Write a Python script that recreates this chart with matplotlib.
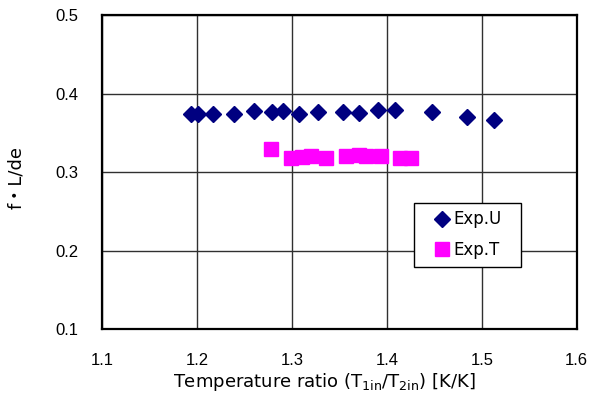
import matplotlib
matplotlib.use('Agg')
import matplotlib.pyplot as plt
from matplotlib.patches import Rectangle

plt.rcParams['font.family'] = ['DejaVu Sans', 'Noto Sans CJK JP']
plt.rcParams['mathtext.fontset'] = 'dejavusans'

# Exp.U series
u_ratio = [1.193, 1.201, 1.217, 1.239, 1.260, 1.279, 1.290, 1.307,
           1.327, 1.354, 1.371, 1.391, 1.408, 1.448, 1.484, 1.513]
u_fld = [0.3745, 0.3745, 0.374, 0.374, 0.378, 0.377, 0.378, 0.374,
         0.3765, 0.377, 0.375, 0.379, 0.3795, 0.3765, 0.370, 0.367]

# Exp.T series
t_ratio = [1.278, 1.299, 1.310, 1.320, 1.336, 1.357, 1.370, 1.378,
           1.394, 1.414, 1.425]
t_fld = [0.330, 0.3187, 0.3196, 0.3204, 0.3187, 0.3204, 0.3217, 0.3204,
         0.3204, 0.3187, 0.3187]

x_ticks = [1.1, 1.2, 1.3, 1.4, 1.5, 1.6]
y_ticks = [0.1, 0.2, 0.3, 0.4, 0.5]

fig = plt.figure(figsize=(5.89, 4.16), dpi=100)
ax = fig.add_axes([0.174, 0.209, 0.805, 0.754])

ax.plot(u_ratio, u_fld, ls='none', marker='D', ms=8.5, color='#000080',
        mec='#000080', label='Exp.U', zorder=3)
ax.plot(t_ratio, t_fld, ls='none', marker='s', ms=10.5, color='#FF00FF',
        mec='#FF00FF', label='Exp.T', zorder=3)

ax.set_xlim(1.1, 1.6)
ax.set_ylim(0.1, 0.5)
ax.set_xticks(x_ticks)
ax.set_yticks(y_ticks)
ax.set_xticklabels([f'{v:.1f}' for v in x_ticks], family='Liberation Sans')
ax.set_yticklabels([f'{v:.1f}' for v in y_ticks], family='Liberation Sans')
ax.tick_params(length=0, labelsize=12, pad=17)
ax.grid(True, color='#303030', lw=1)
ax.set_axisbelow(True)
for s in ax.spines.values():
    s.set_linewidth(1.6)
    s.set_color('black')

ax.set_xlabel(r'Temperature ratio (T$_{\mathregular{1in}}$/T$_{\mathregular{2in}}$) [K/K]',
              fontsize=13)
ax.xaxis.set_label_coords(0.468, -0.135)
ax.set_ylabel('f・L/de', fontsize=13)
ax.yaxis.set_label_coords(-0.163, 0.482)

# legend frame drawn as a plain box, entries placed inside it
ax.add_patch(Rectangle((0.658, 0.197), 0.225, 0.205, transform=ax.transAxes,
                       fc='white', ec='black', lw=1.0, zorder=4))
leg = ax.legend(loc='upper left', bbox_to_anchor=(0.681, 0.405), fontsize=12,
                frameon=False, borderaxespad=0, borderpad=0.5,
                handletextpad=0.15, handlelength=1.0, labelspacing=0.75)
leg.set_zorder(5)

fig.savefig('out.png', dpi=100, facecolor='white')
